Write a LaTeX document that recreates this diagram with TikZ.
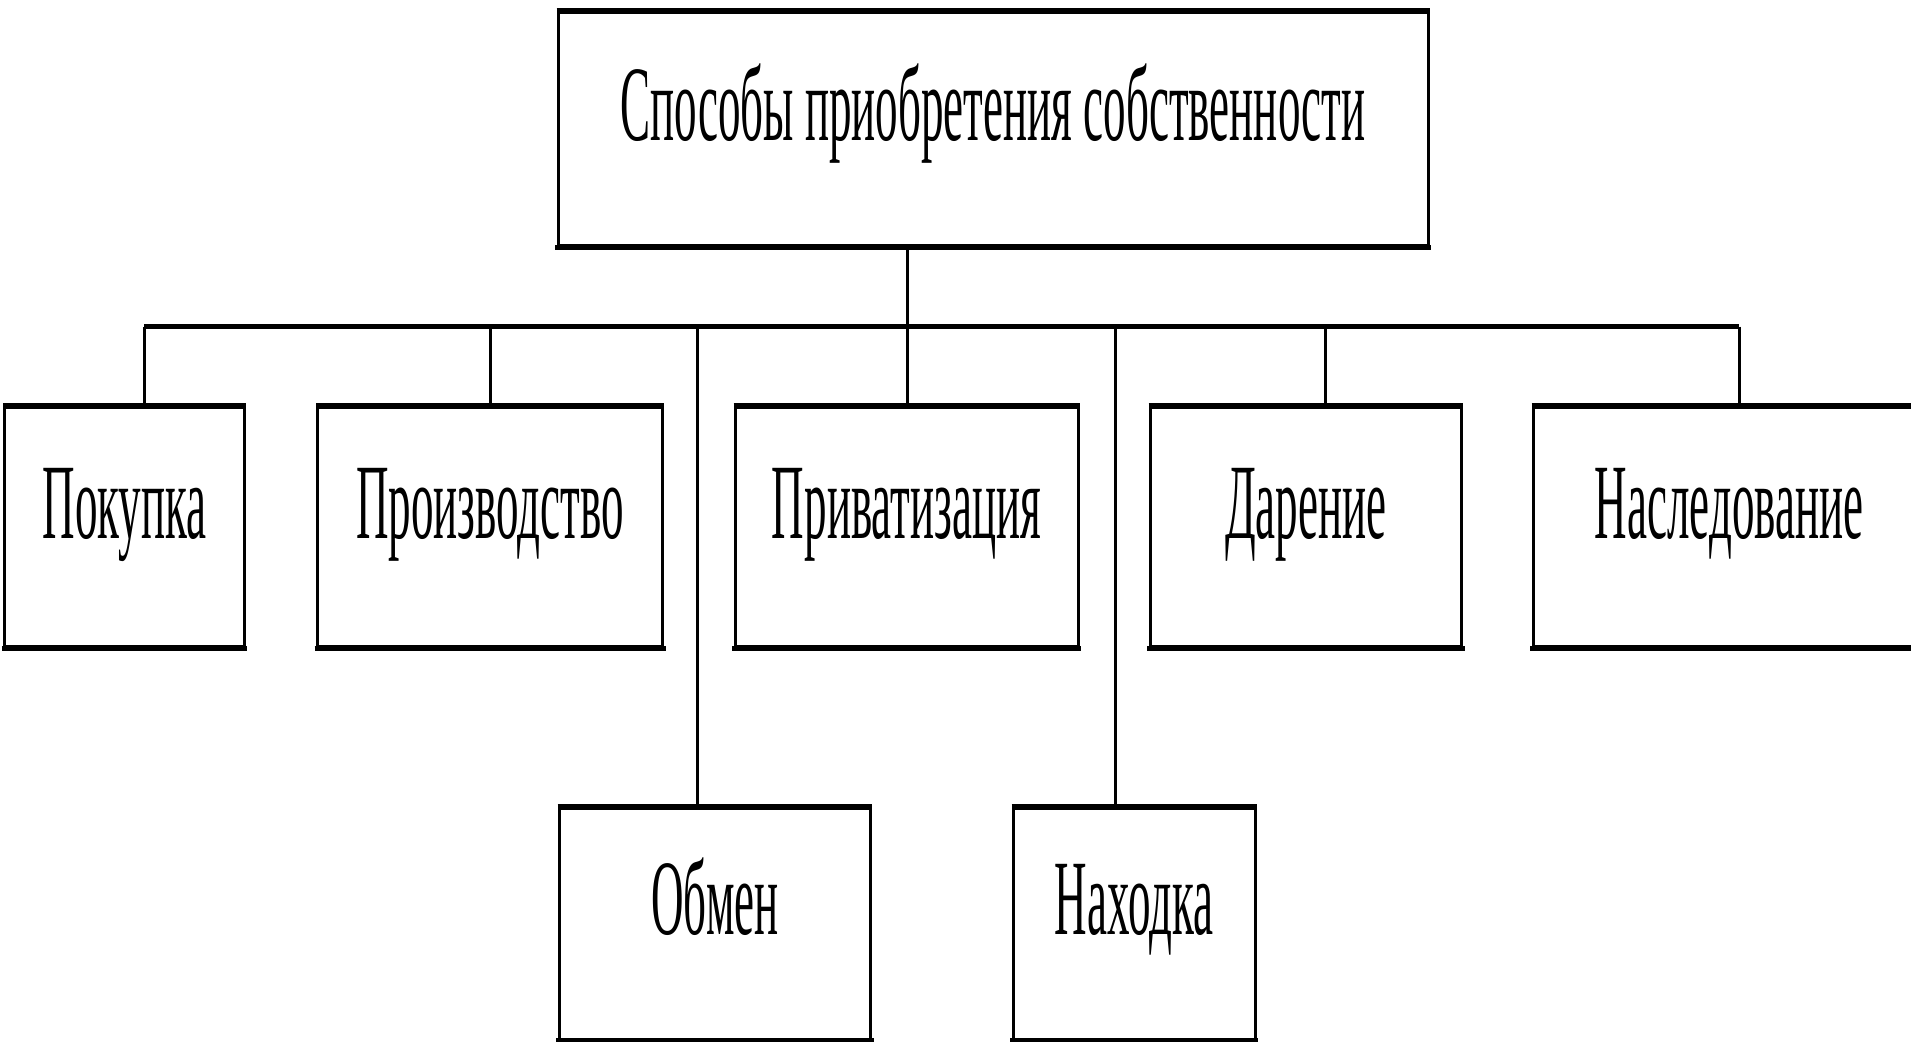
\documentclass[tikz,border=0pt]{standalone}
\usepackage{fontspec}
\newfontfamily\boxfont[FakeStretch=0.42]{Liberation Serif}
\tikzset{
  box/.style={draw, line width=1.5pt, inner sep=0pt, font=\boxfont\fontsize{53.6}{60}\selectfont,
    text height=20pt, text depth=9pt},
  edge/.style={line width=2.7pt, shorten <=-0.75pt, shorten >=-0.75pt},
  vline/.style={line width=1.5pt},
  bus/.style={line width=2.7pt}
}
\begin{document}
\begin{tikzpicture}[x=0.5pt, y=-0.5pt]
  \useasboundingbox (0,0) rectangle (1911,1041);
  \node[box, minimum width=435pt, minimum height=116.75pt] (root) at (993,129.2)
    {Способы приобретения собственности};
  \node[box, minimum width=119.75pt, minimum height=119.75pt] (pok) at (124.7,527.2) {Покупка};
  \node[box, minimum width=172.5pt, minimum height=119.75pt] (proizv) at (490,527.2) {Производство};
  \node[box, minimum width=171.5pt, minimum height=119.75pt] (priv) at (906.5,527.2) {Приватизация};
  \node[box, minimum width=155.75pt, minimum height=119.75pt] (dar) at (1305.8,527.2) {Дарение};
  \node[box, minimum width=196pt, minimum height=119.75pt] (nasl) at (1729,527.2) {Наследование};
  \node[box, minimum width=155.75pt, minimum height=115.25pt] (obmen) at (714.8,923.8) {Обмен};
  \node[box, minimum width=121pt, minimum height=115.25pt] (nahod) at (1134,923.8) {Находка};
  % thick top and bottom edges
  \foreach \n in {root,pok,proizv,priv,dar,nasl,obmen,nahod}
    \draw[edge] (\n.north west) -- (\n.north east) (\n.south west) -- (\n.south east);
  % bus
  \coordinate (top) at (907,326.5);
  \coordinate (d1) at (144,326.5);
  \coordinate (d2) at (490,326.5);
  \coordinate (d3) at (697,326.5);
  \coordinate (d4) at (907,326.5);
  \coordinate (d5) at (1115,326.5);
  \coordinate (d6) at (1325,326.5);
  \coordinate (d7) at (1739,326.5);
  \draw[vline] (root.south -| top) -- (top);
  \draw[bus] (d1) -- (d7);
  \foreach \d/\n in {d1/pok,d2/proizv,d3/obmen,d4/priv,d5/nahod,d6/dar,d7/nasl}
    \draw[vline] (\d) -- (\d |- \n.north);
\end{tikzpicture}
\end{document}
